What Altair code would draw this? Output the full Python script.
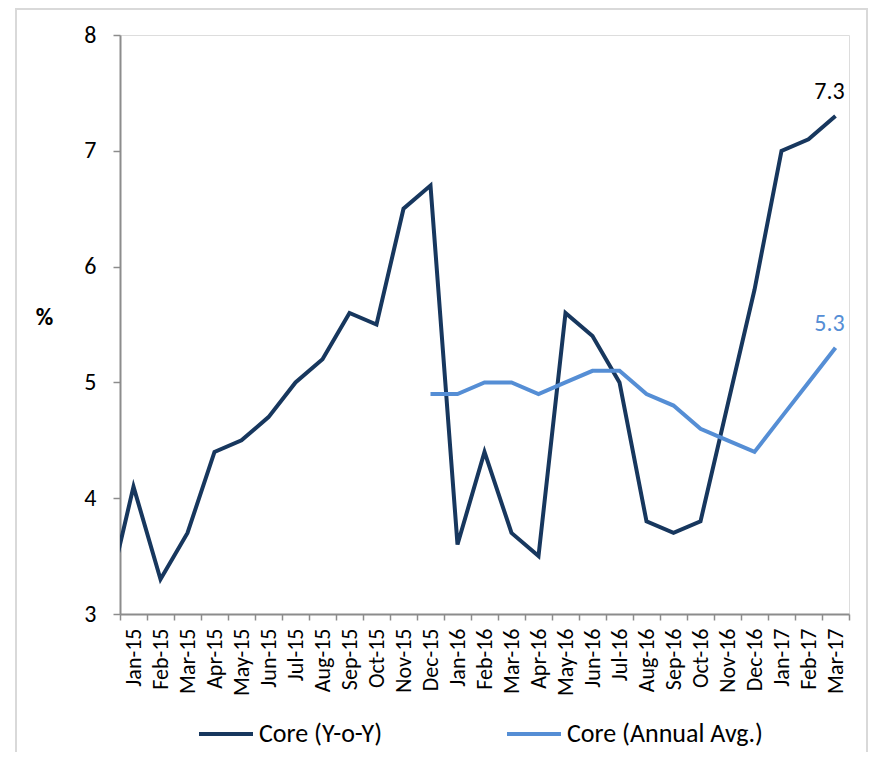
import json
import altair as alt
import pandas as pd

# Month categories (Dec-14 only supplies the clipped lead-in segment at the axis)
months = ["Dec-14", "Jan-15", "Feb-15", "Mar-15", "Apr-15", "May-15", "Jun-15", "Jul-15",
          "Aug-15", "Sep-15", "Oct-15", "Nov-15", "Dec-15", "Jan-16", "Feb-16", "Mar-16",
          "Apr-16", "May-16", "Jun-16", "Jul-16", "Aug-16", "Sep-16", "Oct-16", "Nov-16",
          "Dec-16", "Jan-17", "Feb-17", "Mar-17"]

core_yoy = [3.1, 4.1, 3.3, 3.7, 4.4, 4.5, 4.7, 5.0, 5.2, 5.6, 5.5, 6.5, 6.7,
            3.6, 4.4, 3.7, 3.5, 5.6, 5.4, 5.0, 3.8, 3.7, 3.8, 4.8, 5.8, 7.0, 7.1, 7.3]

avg_months = ["Dec-15", "Jan-16", "Feb-16", "Mar-16", "Apr-16", "May-16", "Jun-16", "Jul-16",
              "Aug-16", "Sep-16", "Oct-16", "Nov-16", "Dec-16", "Jan-17", "Feb-17", "Mar-17"]
core_avg = [4.9, 4.9, 5.0, 5.0, 4.9, 5.0, 5.1, 5.1, 4.9, 4.8, 4.6, 4.5, 4.4, 4.7, 5.0, 5.3]

series_names = ["Core (Y-o-Y)", "Core (Annual Avg.)"]
series_colors = ["#17375E", "#558ED5"]

rows = []
for m, v in zip(months, core_yoy):
    rows.append({"idx": months.index(m), "month": m, "value": v, "series": series_names[0]})
for m, v in zip(avg_months, core_avg):
    rows.append({"idx": months.index(m), "month": m, "value": v, "series": series_names[1]})
df = pd.DataFrame(rows)

W, H = 729, 579
band = W / 27.0
FONT = "Carlito, Calibri, Lato, sans-serif"
AXIS_GRAY = "#8C8C8C"

label_arr = json.dumps(months + [""])
tick_vals = [i + 0.5 for i in range(28)]

x_enc = alt.X(
    "idx:Q",
    scale=alt.Scale(domain=[0.5, 27.5], nice=False, zero=False),
    axis=alt.Axis(
        values=tick_vals,
        labelExpr=f"{label_arr}[round(datum.value + 0.5)]",
        labelOffset=band / 2,
        labelAngle=270,
        labelAlign="right",
        labelBaseline="middle",
        labelFontSize=22,
        labelFont=FONT,
        labelColor="#000000",
        labelPadding=8,
        tickSize=6,
        tickColor=AXIS_GRAY,
        tickWidth=1.5,
        domainColor=AXIS_GRAY,
        domainWidth=2,
        grid=False,
        title=None,
        labelOverlap=False,
        labelBound=False,
        labelFlush=False,
    ),
)

y_enc = alt.Y(
    "value:Q",
    scale=alt.Scale(domain=[3, 8], nice=False, zero=False),
    axis=alt.Axis(
        values=[3, 4, 5, 6, 7, 8],
        format="d",
        labelFontSize=24,
        labelFont=FONT,
        labelColor="#000000",
        labelPadding=17,
        tickSize=7,
        tickColor=AXIS_GRAY,
        tickWidth=1.5,
        domainColor=AXIS_GRAY,
        domainWidth=2,
        grid=False,
        title="%",
        titleAngle=0,
        titleFontSize=24,
        titleFontWeight="bold",
        titleFont=FONT,
        titleColor="#000000",
        titleX=-76,
        titleY=282,
        titleAlign="center",
        titleBaseline="middle",
    ),
)

color_enc = alt.Color(
    "series:N",
    scale=alt.Scale(domain=series_names, range=series_colors),
    sort=series_names,
    legend=alt.Legend(
        title=None,
        orient="none",
        legendX=77,
        legendY=670,
        direction="horizontal",
        symbolType="stroke",
        symbolStrokeWidth=4,
        symbolSize=2916,
        labelFontSize=26,
        labelFont=FONT,
        labelColor="#000000",
        labelLimit=500,
        columnPadding=116,
        labelOffset=4,
    ),
)

base = alt.Chart(df).encode(x=x_enc, y=y_enc)

lines = base.mark_line(strokeWidth=4, clip=True).encode(color=color_enc, detail="series:N")

last_dark = base.transform_filter(
    (alt.datum.idx == 27) & (alt.datum.series == series_names[0])
).mark_text(dy=-24, dx=-6, fontSize=24, font=FONT, color="#000000").encode(
    text=alt.Text("value:Q", format=".1f")
)

last_light = base.transform_filter(
    (alt.datum.idx == 27) & (alt.datum.series == series_names[1])
).mark_text(dy=-24, dx=-6, fontSize=24, font=FONT, color=series_colors[1]).encode(
    text=alt.Text("value:Q", format=".1f")
)

# light gray frame around the whole figure (decoration)
frame_df = pd.DataFrame({"k": [0]})
frame = alt.Chart(frame_df).mark_rect(
    fill=None, stroke="#D9D9D9", strokeWidth=2, clip=False
).encode(
    x=alt.value(-104), x2=alt.value(747), y=alt.value(-26), y2=alt.value(760)
)

chart = alt.layer(frame, lines, last_dark, last_light).properties(
    width=W,
    height=H,
    autosize=alt.AutoSizeParams(type="none"),
    padding={"left": 112, "top": 27, "right": 20, "bottom": 138},
).configure_view(stroke=None).configure(background="#FFFFFF")

chart.save("out.html", embed_options={"renderer": "svg", "actions": False})
